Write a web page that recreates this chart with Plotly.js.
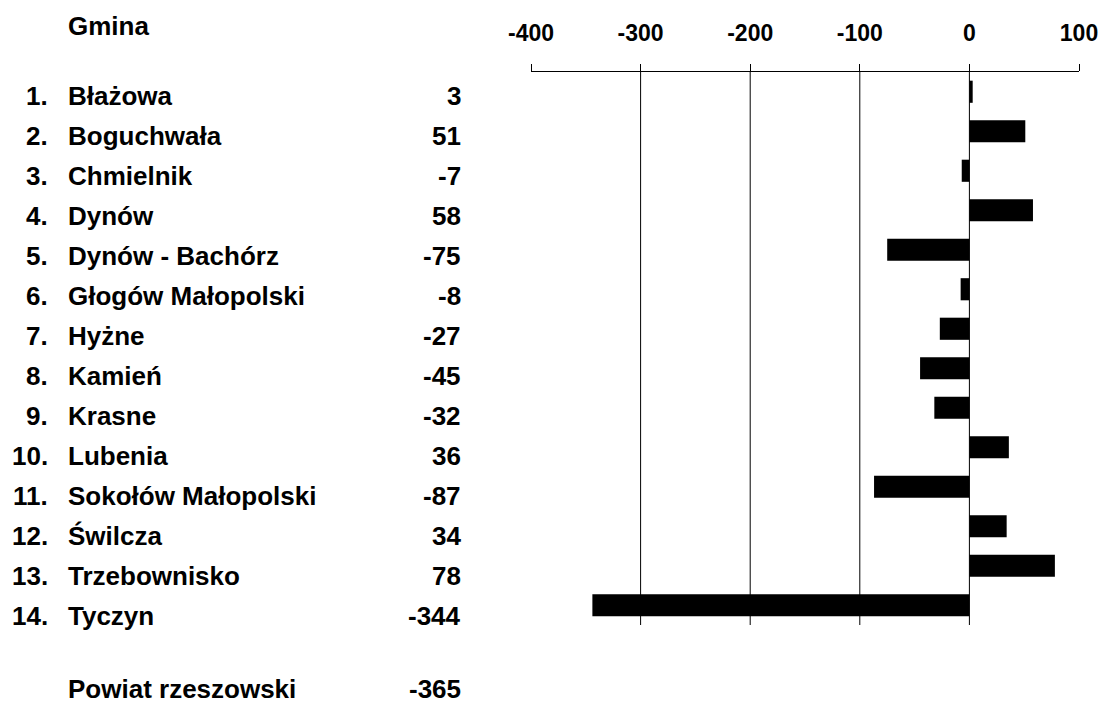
<!DOCTYPE html>
<html>
<head>
<meta charset="utf-8">
<script src="https://cdn.plot.ly/plotly-3.0.1.min.js"></script>
<style>html,body{margin:0;padding:0;background:#fff;}#chart{width:1101px;height:706px;}</style>
</head>
<body>
<div id="chart"></div>
<script>
const gminy = ["Błażowa","Boguchwała","Chmielnik","Dynów","Dynów - Bachórz","Głogów Małopolski","Hyżne","Kamień","Krasne","Lubenia","Sokołów Małopolski","Świlcza","Trzebownisko","Tyczyn"];
const values = [3,51,-7,58,-75,-8,-27,-45,-32,36,-87,34,78,-344];
const headerLabel = "Gmina";
const totalLabel = "Powiat rzeszowski";
const totalValue = -365;
const tickVals = [-400,-300,-200,-100,0,100];
const tickText = ["-400","-300","-200","-100","0","100"];
const gridVals = [-300,-200,-100,0];

// layout geometry (pixels)
const W = 1101, H = 706;
const mL = 531, mR = 22, mT = 72, mB = 81;
const pw = W - mL - mR, ph = H - mT - mB;
const px = x => (x - mL) / pw;
const py = y => (H - mB - y) / ph;

const FONT = "Liberation Sans, Arial, sans-serif";
const txtFont = {family: FONT, size: 26, color: "#000", weight: 700};

const annotations = [];
function addText(text, x, y, anchor, vanchor) {
  annotations.push({text: text, xref: "paper", yref: "paper", x: px(x), y: py(y),
    xanchor: anchor, yanchor: vanchor || "middle", showarrow: false, font: txtFont});
}
const rowY0 = 96, rowStep = 40;
addText(headerLabel, 66, 26, "left");
gminy.forEach((g, i) => {
  const y = rowY0 + rowStep * i;
  addText((i + 1) + ".", 50, y, "right");
  addText(g, 66, y, "left");
  addText(String(values[i]), 463, y, "right");
});
addText(totalLabel, 66, 706, "left", "bottom");
addText(String(totalValue), 463, 706, "right", "bottom");

const shapes = gridVals.map(v => ({type: "line", xref: "x", yref: "paper",
  x0: v, x1: v, y0: 0, y1: 1, line: {color: "#000", width: 1}, layer: "below"}));

const trace = {type: "bar", orientation: "h", x: values, y: gminy,
  marker: {color: "#000", line: {width: 0}}, width: 0.56, hoverinfo: "x+y"};

const layout = {
  width: W, height: H,
  margin: {l: mL, r: mR, t: mT, b: mB, pad: 0},
  paper_bgcolor: "#fff", plot_bgcolor: "rgba(0,0,0,0)",
  showlegend: false,
  xaxis: {side: "top", range: [-400, 100], tickmode: "array", tickvals: tickVals, ticktext: tickText,
    showgrid: false, zeroline: false, showline: true, linecolor: "#000", linewidth: 1,
    ticks: "outside", ticklen: 7, tickwidth: 1, tickcolor: "#000", ticklabelstandoff: 14,
    tickfont: {family: FONT, size: 23, color: "#000", weight: 700}, fixedrange: true},
  yaxis: {type: "category", range: [13.5, -0.5], visible: false, showgrid: false, zeroline: false, fixedrange: true},
  shapes: shapes,
  annotations: annotations,
  font: {family: FONT}
};
Plotly.newPlot("chart", [trace], layout, {displayModeBar: false, staticPlot: true});
</script>
</body>
</html>
